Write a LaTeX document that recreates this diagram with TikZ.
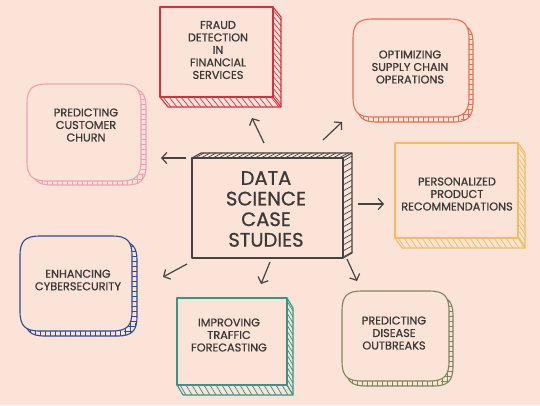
\documentclass[tikz,border=0pt]{standalone}
\usepackage{fontspec}
\setmainfont{Poppins}[FakeBold=0.8]
\usetikzlibrary{arrows.meta,calc}
\definecolor{bg}{RGB}{251,227,215}
\definecolor{txt}{RGB}{58,56,56}
\definecolor{ink}{RGB}{68,66,66}
\definecolor{cred}{RGB}{214,48,64}
\definecolor{cpink}{RGB}{238,160,180}
\definecolor{corange}{RGB}{226,112,84}
\definecolor{cyellow}{RGB}{244,188,96}
\definecolor{cblue}{RGB}{44,76,146}
\definecolor{cteal}{RGB}{52,150,136}
\definecolor{colive}{RGB}{122,134,90}
\tikzset{
  boxline/.style={line width=1.1pt, line join=round},
  hatchline/.style={line width=0.7pt},
  lbl/.style={text=txt, align=center, font=\fontsize{11.3}{12.5}\selectfont, inner sep=0pt},
  biglbl/.style={text=txt, align=center, font=\fontsize{19.5}{20.6}\selectfont, inner sep=0pt},
  arr/.style={draw=ink, line width=1.2pt, -{Straight Barb[length=5pt,width=11pt,line width=1.2pt]}},
}
% rectangle with extrusion to the bottom right
\newcommand{\boxBR}[7]{%
  \pgfmathsetmacro\ha{#1+3}\pgfmathsetmacro\hb{#1+9}%
  \pgfmathsetmacro\va{#2+3}\pgfmathsetmacro\vb{#2+9}%
  \draw[draw=#7, boxline, fill=bg] (#1,#4) -- (#1+#5,#4+#6) -- (#3+#5,#4+#6) -- (#3+#5,#2+#6) -- (#3,#2) -- cycle;
  \foreach \xx in {\ha,\hb,...,#3} \draw[draw=#7,hatchline] (\xx,#4) -- ++(#5,#6);
  \foreach \yy in {\va,\vb,...,#4} \draw[draw=#7,hatchline] (#3,\yy) -- ++(#5,#6);
  \draw[draw=#7, boxline, fill=bg] (#1,#2) rectangle (#3,#4);
  \draw[draw=#7, boxline] (#3,#4) -- ++(#5,#6);
}
% rectangle with extrusion to the top right
\newcommand{\boxTR}[7]{%
  \pgfmathsetmacro\ha{#1+3}\pgfmathsetmacro\hb{#1+9}%
  \pgfmathsetmacro\va{#2+3}\pgfmathsetmacro\vb{#2+9}%
  \draw[draw=#7, boxline, fill=bg] (#1,#2) -- (#1+#5,#2-#6) -- (#3+#5,#2-#6) -- (#3+#5,#4-#6) -- (#3,#4) -- cycle;
  \foreach \xx in {\ha,\hb,...,#3} \draw[draw=#7,hatchline] (\xx,#2) -- ++(#5,-#6);
  \foreach \yy in {\va,\vb,...,#4} \draw[draw=#7,hatchline] (#3,\yy) -- ++(#5,-#6);
  \draw[draw=#7, boxline, fill=bg] (#1,#2) rectangle (#3,#4);
  \draw[draw=#7, boxline] (#3,#2) -- ++(#5,-#6);
}
% squircle-like outline: x1 y1 x2 y2
\newcommand{\pillow}[4]{%
  (#1+20,#2) -- (#3-20,#2)
  .. controls (#3-5,#2) and (#3,#2+5) .. (#3,#2+20)
  -- (#3,#4-20)
  .. controls (#3,#4-5) and (#3-5,#4) .. (#3-20,#4)
  -- (#1+20,#4)
  .. controls (#1+5,#4) and (#1,#4-5) .. (#1,#4-20)
  -- (#1,#2+20)
  .. controls (#1,#2+5) and (#1+5,#2) .. cycle}
% rounded box with shadow strip to the bottom right
\newcommand{\roundbox}[7]{%
  \pgfmathsetmacro\ha{#1+10}\pgfmathsetmacro\hb{#1+15}%
  \pgfmathsetmacro\va{#2+10}\pgfmathsetmacro\vb{#2+15}%
  \pgfmathsetmacro\xe{#3+#5+4}\pgfmathsetmacro\ye{#4+#6+4}%
  \pgfmathsetmacro\xb{#1+#5}\pgfmathsetmacro\yb{#2+#6}%
  \pgfmathsetmacro\xc{#3+#5}\pgfmathsetmacro\yc{#4+#6}%
  \begin{scope}
    \clip \pillow{\xb}{\yb}{\xc}{\yc};
    \fill[bg] (#1,#2) rectangle (\xe,\ye);
    \foreach \xx in {\ha,\hb,...,\xe} \draw[draw=#7,hatchline] (\xx,#4-8) -- (\xx,\ye);
    \foreach \yy in {\va,\vb,...,\ye} \draw[draw=#7,hatchline] (#3-8,\yy) -- (\xe,\yy);
  \end{scope}
  \draw[draw=#7, boxline] \pillow{\xb}{\yb}{\xc}{\yc};
  \draw[draw=#7, boxline, fill=bg] \pillow{#1}{#2}{#3}{#4};
}
\begin{document}
\begin{tikzpicture}[x=1pt,y=-1pt]
\useasboundingbox (0,0) rectangle (540,405);
\fill[bg] (0,0) rectangle (540,405);

% boxes
\boxBR{160}{7}{273}{97}{8}{10}{cred}
\roundbox{27}{84}{141}{181}{5}{4}{cpink}
\roundbox{353}{19}{469}{117}{4}{5}{corange}
\boxBR{395}{143}{518}{238}{7}{10}{cyellow}
\boxTR{192}{158}{343}{258}{9}{5}{ink}
\roundbox{20}{236}{132}{331}{5}{5}{cblue}
\boxBR{177}{298}{287}{385}{6}{10}{cteal}
\roundbox{342}{291}{449}{381}{4}{5}{colive}

% labels
\node[biglbl] (center) at (266,209) {DATA\\SCIENCE\\CASE\\STUDIES};
\node[lbl] (fraud) at (218,50) {FRAUD\\DETECTION\\IN\\FINANCIAL\\SERVICES};
\node[lbl] (churn) at (86,125) {PREDICTING\\CUSTOMER\\CHURN};
\node[lbl] (supply) at (410,67) {OPTIMIZING\\SUPPLY CHAIN\\OPERATIONS};
\node[lbl] (personal) at (457,194) {PERSONALIZED\\PRODUCT\\RECOMMENDATIONS};
\node[lbl] (cyber) at (78,280) {ENHANCING\\CYBERSECURITY};
\node[lbl] (traffic) at (229,335) {IMPROVING\\TRAFFIC\\FORECASTING};
\node[lbl] (disease) at (394,333) {PREDICTING\\DISEASE\\OUTBREAKS};

% arrow end points
\coordinate (t1) at (264,143); \coordinate (h1) at (252,118);
\coordinate (t2) at (323,140); \coordinate (h2) at (342,122);
\coordinate (t3) at (186,158); \coordinate (h3) at (161,158);
\coordinate (t4) at (358,204); \coordinate (h4) at (384,204);
\coordinate (t5) at (187,264); \coordinate (h5) at (163,277);
\coordinate (t6) at (270,262); \coordinate (h6) at (261,284);
\coordinate (t7) at (347,259); \coordinate (h7) at (357,281);
\foreach \i in {1,...,7} \draw[arr] (t\i) -- (h\i);
\end{tikzpicture}
\end{document}
